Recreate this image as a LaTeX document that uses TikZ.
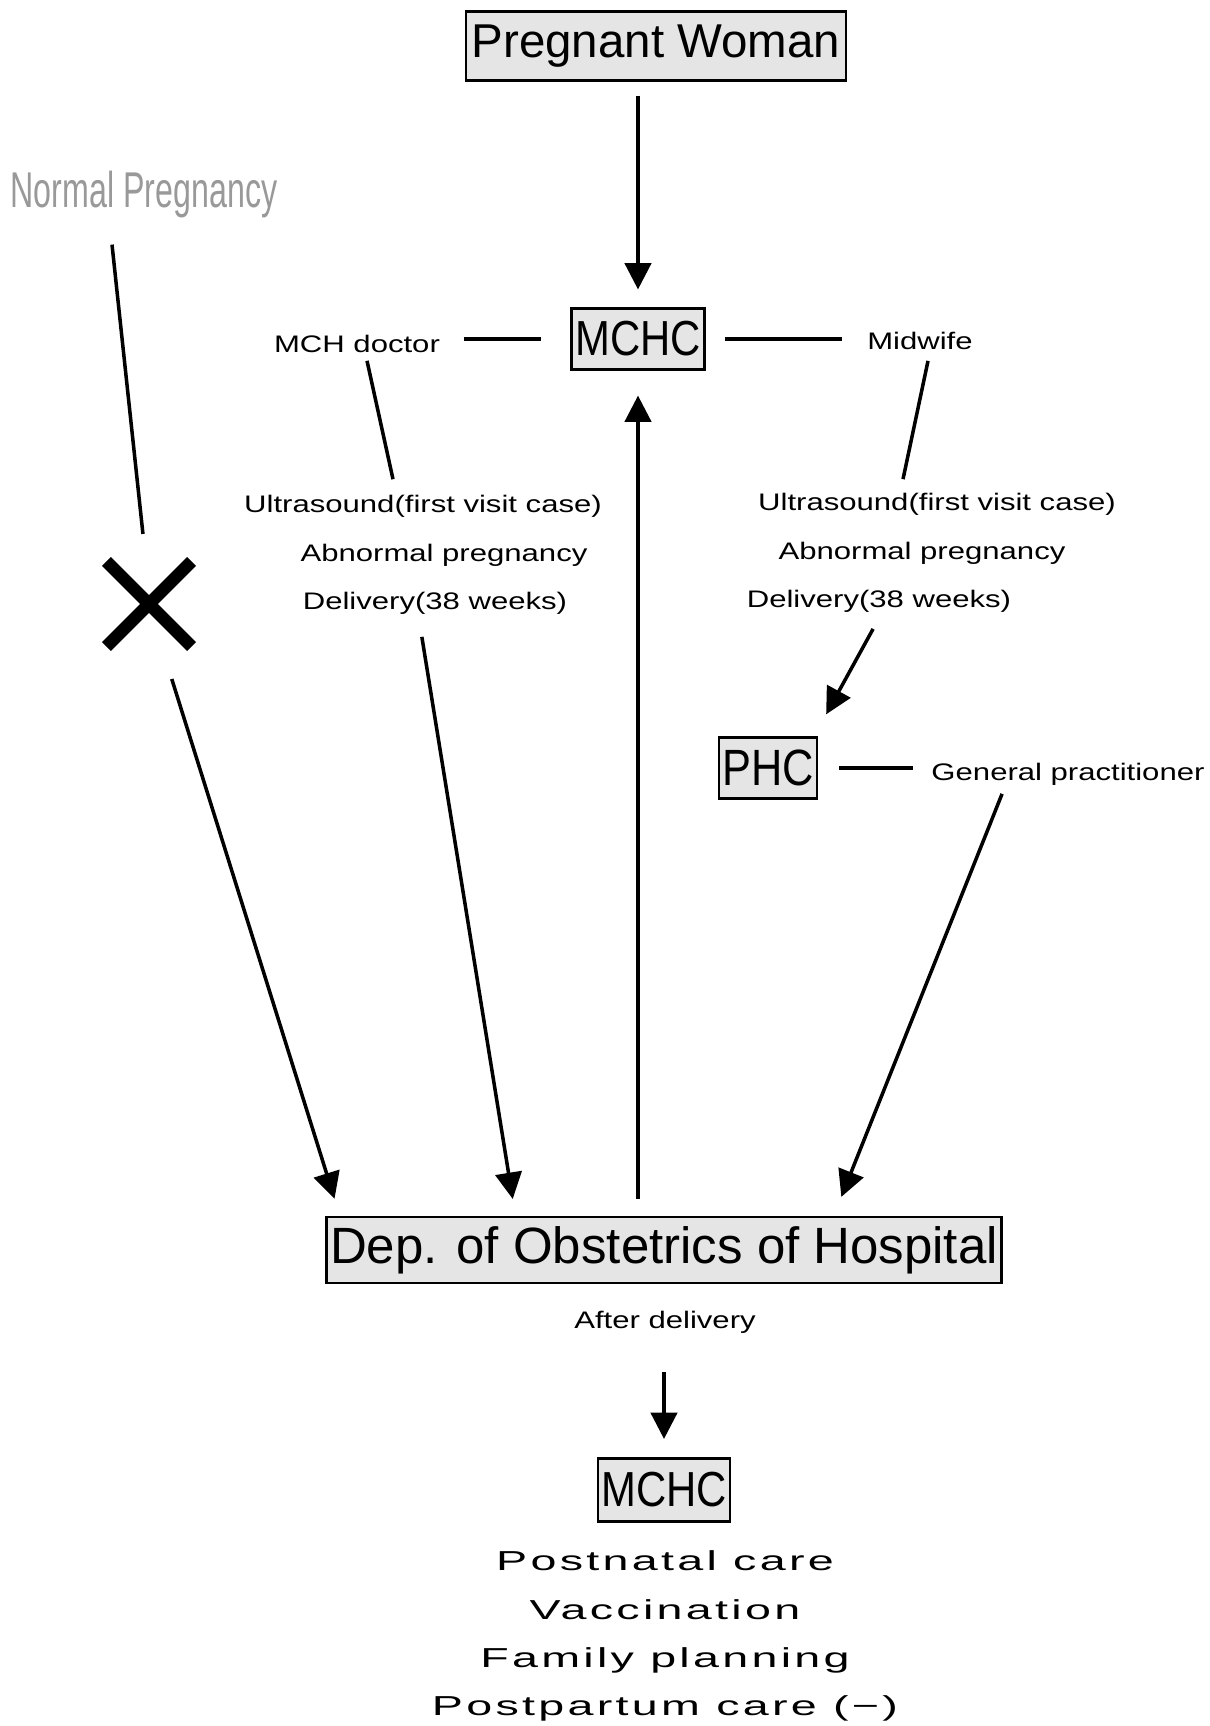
\documentclass[tikz,border=0pt]{standalone}
\usepackage{fontspec}
\usetikzlibrary{arrows.meta,shapes.misc}
\setmainfont{Liberation Sans}
\newfontfamily\boxfont{Liberation Sans}[FakeStretch=0.85]
\newfontfamily\faintfont{Liberation Sans}[FakeStretch=0.64]
\newfontfamily\labelfont{Liberation Sans}[FakeStretch=1.3]
\newfontfamily\listfont{Liberation Sans}[FakeStretch=1.7,LetterSpace=12,BoldFont=*]

\begin{document}
\begin{tikzpicture}[x=0.01cm,y=-0.01cm,
		box/.style={draw=black,line width=0.6pt,fill=black!10,inner xsep=1pt,inner ysep=0pt},
		lbl/.style={inner sep=0pt,font=\labelfont\fontsize{6.8}{8}\selectfont},
		arr/.style={line width=1pt,-{Triangle[length=7.5pt,width=7.5pt]}},
		lnk/.style={line width=1pt}]
		\useasboundingbox (0,0) rectangle (1210,1726);
		\node [box,minimum width=3.79cm,minimum height=0.69cm,font=\fontsize{13.5}{16}\selectfont] (pw) at (656,46) {Pregnant Woman};
		\node [text=black!40,inner sep=0pt,font=\faintfont\fontsize{14.3}{16}\selectfont] (normal) at (144,194) {Normal Pregnancy};
		\node [box,minimum width=1.33cm,minimum height=0.61cm,font=\boxfont\fontsize{14}{16}\selectfont] (mchc) at (638,339) {MCHC};
		\node [lbl] (doctor) at (357,344) {MCH doctor};
		\node [lbl] (midwife) at (920,341) {Midwife};
		\node [lbl] (lsound) at (423,506) {Ultrasound(first visit case)};
		\node [lbl] (labn) at (444,555) {Abnormal pregnancy};
		\node [lbl] (ldeliv) at (435,603) {Delivery(38 weeks)};
		\node [lbl] (rsound) at (937,504) {Ultrasound(first visit case)};
		\node [lbl] (rabn) at (922,553) {Abnormal pregnancy};
		\node [lbl] (rdeliv) at (879,601) {Delivery(38 weeks)};
		\node [draw,cross out,line width=3.6pt,minimum size=0.85cm,inner sep=0pt,outer sep=0pt] (nogo) at (149,604) {};
		\node [box,minimum width=0.95cm,minimum height=0.61cm,font=\boxfont\fontsize{14.5}{16}\selectfont] (phc) at (768,768) {PHC};
		\node [lbl] (gp) at (1068,774) {General practitioner};
		\node [box,minimum width=6.68cm,minimum height=0.66cm,font=\fontsize{14.5}{16}\selectfont] (dep) at (664,1250) {Dep. of Obstetrics of Hospital};
		\node [lbl] (after) at (665,1322) {After delivery};
		\node [box,minimum width=1.32cm,minimum height=0.63cm,font=\boxfont\fontsize{14}{16}\selectfont] (mchcb) at (664,1490) {MCHC};
		\node [align=center,inner sep=0pt,font=\listfont\bfseries\fontsize{7.8}{13.7}\selectfont] (care) at (665,1636) {Postnatal care\\Vaccination\\Family planning\\Postpartum care (−)};
		\draw [arr,shorten <=0.14cm,shorten >=0.18cm] (mchc |- pw.south) -- (mchc.north);
		\draw [lnk,shorten <=0.23cm,shorten >=0.29cm] (mchc.west -| doctor.east) -- (mchc.west);
		\draw [lnk,shorten <=0.19cm,shorten >=0.25cm] (mchc.east) -- (mchc.east -| midwife.west);
		\draw [lnk,shorten <=0.075cm,shorten >=0.153cm] ([xshift=0.084cm]doctor.south) -- ([xshift=-0.267cm]lsound.north);
		\draw [lnk,shorten <=0.106cm,shorten >=0.133cm] ([xshift=0.102cm]midwife.south) -- ([xshift=-0.367cm]rsound.north);
		\draw [lnk,shorten <=0.266cm,shorten >=0.277cm] ([xshift=-0.348cm]normal.south) -- ([xshift=-0.031cm]nogo.north);
		\draw [arr,shorten <=0.34cm,shorten >=0.18cm] ([xshift=0.126cm]nogo.south) -- ([xshift=0.144cm]dep.north west);
		\draw [arr,shorten <=0.223cm,shorten >=0.172cm] ([xshift=-0.167cm]ldeliv.south) -- ([xshift=1.899cm]dep.north west);
		\draw [arr,shorten <=0.17cm,shorten >=0.25cm] (mchc |- dep.north) -- (mchc.south);
		\draw [arr,shorten <=0.183cm,shorten >=0.252cm] ([xshift=0.029cm]rdeliv.south) -- ([xshift=-0.043cm]phc.north east);
		\draw [lnk,shorten <=0.21cm,shorten >=0.18cm] (phc.east) -- (phc.east -| gp.west);
		\draw [arr,shorten <=0.086cm,shorten >=0.205cm] ([xshift=-0.627cm]gp.south) -- ([xshift=-1.687cm]dep.north east);
		\draw [arr,shorten <=0.38cm,shorten >=0.185cm] (after.south -| mchcb) -- (mchcb.north);
\end{tikzpicture}
\end{document}
